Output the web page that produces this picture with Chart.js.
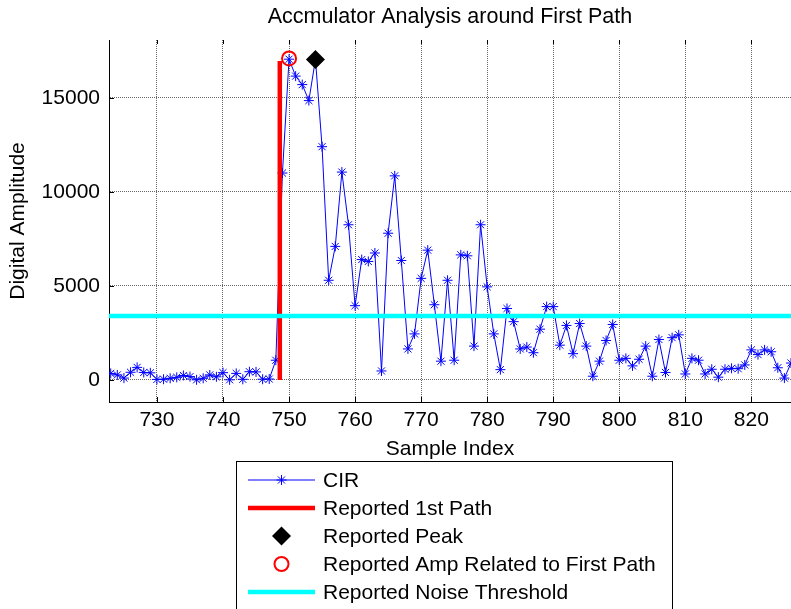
<!DOCTYPE html>
<html><head><meta charset="utf-8">
<script src="https://cdn.jsdelivr.net/npm/chart.js@4.4.1/dist/chart.umd.min.js"></script>
<style>html,body{margin:0;padding:0;background:#fff;overflow:hidden;} #wrap{width:791px;height:609px;position:relative;}</style>
</head><body><div id="wrap"><canvas id="c" width="791" height="609"></canvas></div>
<script>
// ---- data ----
const sampleStart = 723;
const cirValues = [
  350, 270, 100, 410, 670, 400, 380, 30, 40, 90,          // 723-732
  140, 240, 180, 10, 90, 270, 170, 390, 10, 350,          // 733-742
  35, 440, 430, 40, 50, 1050, 11000, 17050, 16150, 15700, // 743-752
  14850, 17040, 12400, 5300, 7100, 11050, 8250, 3950, 6400, 6300, // 753-762
  6750, 480, 7800, 10850, 6350, 1650, 2450, 5400, 6900, 4000,     // 763-772
  1000, 5300, 1050, 6650, 6600, 1800, 8250, 4950, 2450, 550,      // 773-782
  3800, 3100, 1650, 1750, 1450, 2700, 3900, 3900, 1850, 2900,     // 783-792
  1400, 3000, 1800, 200, 1000, 2100, 2950, 1050, 1150, 750,       // 793-802
  1100, 1800, 200, 2150, 400, 2250, 2400, 320, 1150, 1050,        // 803-812
  320, 570, 150, 570, 620, 600, 800, 1600, 1350, 1600,            // 813-822
  1500, 650, 100, 900                                             // 823-826
];
const samples = cirValues.map((_, i) => sampleStart + i);
const xTickValues = [730, 740, 750, 760, 770, 780, 790, 800, 810, 820];
const yTickValues = [0, 5000, 10000, 15000];
const firstPathIndex = [748.6, 748.6];
const firstPathLine = [0, 16950];
const peakIndex = [754];
const peakValue = [17040];
const fpAmpIndex = [750];
const fpAmpValue = [17090];
const noiseIndex = [722.74, 826];
const noiseValue = [3400, 3400];
const xLimits = [722.74, 826];
const yLimits = [-1170, 18070];
const seriesLabels = ['CIR', 'Reported 1st Path', 'Reported Peak', 'Reported Amp Related to First Path', 'Reported Noise Threshold'];
const chartTitle = 'Accmulator Analysis around First Path';
const xTitle = 'Sample Index';
const yTitle = 'Digital Amplitude';

const FONT = 'Liberation Sans, Arial, Helvetica, sans-serif';
const font21 = {family: FONT, size: 21};

const zip = (xs, ys) => xs.map((x, i) => ({x, y: ys[i]}));

const datasets = [
  {label: seriesLabels[0], data: zip(samples, cirValues), borderColor: '#0000ff', backgroundColor: '#0000ff',
   borderWidth: 1, pointStyle: 'star', pointRadius: 5, pointBorderWidth: 1, pointBorderColor: '#0000ff',
   showLine: true, tension: 0, order: 5, legendKind: 'lineMarker'},
  {label: seriesLabels[1], data: zip(firstPathIndex, firstPathLine), borderColor: '#ff0000', backgroundColor: '#ff0000',
   borderWidth: 4.5, pointRadius: 0, showLine: true, order: 4, legendKind: 'line'},
  {label: seriesLabels[2], data: zip(peakIndex, peakValue), borderColor: '#000000', backgroundColor: '#000000',
   pointStyle: 'rectRot', pointRadius: 9.5, pointBorderWidth: 0, showLine: false, order: 3, legendKind: 'marker'},
  {label: seriesLabels[3], data: zip(fpAmpIndex, fpAmpValue), borderColor: '#ff0000', backgroundColor: 'rgba(0,0,0,0)',
   pointStyle: 'circle', pointRadius: 7, pointBorderWidth: 2, showLine: false, order: 2, legendKind: 'marker'},
  {label: seriesLabels[4], data: zip(noiseIndex, noiseValue), borderColor: '#00ffff', backgroundColor: '#00ffff',
   borderWidth: 4.5, pointRadius: 0, showLine: true, order: 1, legendKind: 'line'}
];

const extras = {
  id: 'extras',
  afterDraw(chart) {
    const ctx = chart.ctx;
    const area = chart.chartArea;
    const xs = chart.scales.x, ys = chart.scales.y;
    ctx.save();
    // inward tick marks
    ctx.strokeStyle = '#000';
    ctx.lineWidth = 1;
    ctx.beginPath();
    xTickValues.forEach(v => {
      const px = Math.round(xs.getPixelForValue(v)) + 0.5;
      ctx.moveTo(px, area.bottom); ctx.lineTo(px, area.bottom - 5);
      ctx.moveTo(px, area.top); ctx.lineTo(px, area.top + 4);
    });
    yTickValues.forEach(v => {
      const py = Math.round(ys.getPixelForValue(v)) + 0.5;
      ctx.moveTo(area.left, py); ctx.lineTo(area.left + 5, py);
    });
    ctx.stroke();

    // legend box
    const bx = 236, by = 461, bw = 436, bh = 200;
    ctx.fillStyle = '#fff';
    ctx.fillRect(bx, by, bw, bh);
    ctx.strokeStyle = '#000';
    ctx.lineWidth = 1;
    ctx.strokeRect(bx + 0.5, by + 0.5, bw, bh);
    const x0 = 248, x1 = 315, xm = (x0 + x1) / 2;
    chart.data.datasets.forEach((ds, i) => {
      const y = 480 + i * 28;
      ctx.save();
      if (ds.legendKind === 'line' || ds.legendKind === 'lineMarker') {
        ctx.strokeStyle = ds.borderColor;
        ctx.lineWidth = ds.borderWidth;
        ctx.beginPath(); ctx.moveTo(x0, y); ctx.lineTo(x1, y); ctx.stroke();
      }
      if (ds.legendKind === 'marker' || ds.legendKind === 'lineMarker') {
        ctx.strokeStyle = ds.pointBorderColor || ds.borderColor;
        ctx.fillStyle = ds.backgroundColor;
        ctx.lineWidth = ds.pointBorderWidth;
        Chart.helpers.drawPoint(ctx, {pointStyle: ds.pointStyle, radius: ds.pointRadius, borderWidth: ds.pointBorderWidth, rotation: 0}, xm, y);
      }
      ctx.restore();
      ctx.fillStyle = '#000';
      ctx.font = '21px ' + FONT;
      ctx.textBaseline = 'middle';
      ctx.textAlign = 'left';
      ctx.fillText(ds.label, 323, y + 1);
    });
    ctx.restore();
  }
};

new Chart(document.getElementById('c'), {
  type: 'line',
  data: {datasets},
  options: {
    responsive: false,
    animation: false,
    devicePixelRatio: 1,
    layout: {autoPadding: false, padding: {top: 0, left: 0, right: 0, bottom: 147}},
    plugins: {
      legend: {display: false},
      tooltip: {enabled: false},
      title: {display: true, text: chartTitle, font: {family: FONT, size: 21.5, weight: 'normal'}, color: '#000',
              fullSize: false, padding: {top: 4, bottom: 40 - 25.8 - 4}}
    },
    elements: {line: {tension: 0}},
    scales: {
      x: {
        type: 'linear', min: xLimits[0], max: xLimits[1],
        afterBuildTicks: s => { s.ticks = xTickValues.map(v => ({value: v})); },
        afterFit: s => { s.height = 60; s.paddingLeft = 0; s.paddingRight = 0; },
        grid: {color: '#666', lineWidth: 1, drawTicks: false},
        border: {display: true, color: '#000', width: 1, dash: [1, 1]},
        ticks: {font: font21, color: '#000', padding: 6, maxRotation: 0, autoSkip: false, callback: v => String(v)},
        title: {display: true, text: xTitle, font: font21, color: '#000', padding: {top: 0, bottom: 0}}
      },
      y: {
        type: 'linear', min: yLimits[0], max: yLimits[1],
        afterBuildTicks: s => { s.ticks = yTickValues.map(v => ({value: v})); },
        afterFit: s => { s.width = 109; s.paddingTop = 0; s.paddingBottom = 0; },
        grid: {color: '#666', lineWidth: 1, drawTicks: false},
        border: {display: true, color: '#000', width: 1, dash: [1, 1]},
        ticks: {font: font21, color: '#000', padding: 9, callback: v => String(v)},
        title: {display: true, text: yTitle, font: font21, color: '#000', padding: {top: 6, bottom: 0}}
      }
    }
  },
  plugins: [extras]
});
</script></body></html>
